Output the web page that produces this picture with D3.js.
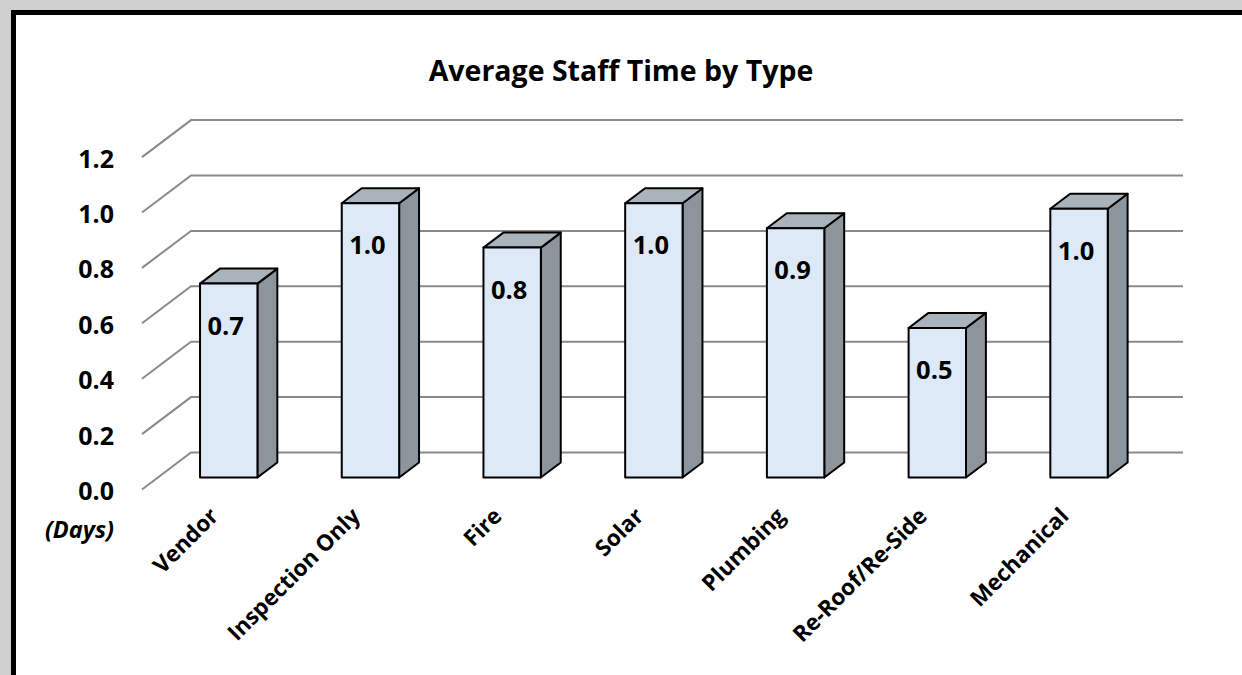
<!DOCTYPE html>
<html><head><meta charset="utf-8">
<script src="https://cdn.jsdelivr.net/npm/d3@7"></script>
<style>
html,body{margin:0;padding:0;background:#d0cfcf;overflow:hidden;}
svg{display:block;}
</style></head>
<body>
<svg id="chart" width="1242" height="675"></svg>
<script>
const categories = ["Vendor","Inspection Only","Fire","Solar","Plumbing","Re-Roof/Re-Side","Mechanical"];
const values = [0.70, 0.99, 0.83, 0.99, 0.90, 0.54, 0.97];
const tickValues = [0.0, 0.2, 0.4, 0.6, 0.8, 1.0, 1.2];
const title = "Average Staff Time by Type";
const unitLabel = "(Days)";

const FONT = "'Open Sans', sans-serif";
const svg = d3.select("#chart");

// frame
svg.append("rect").attr("x",0).attr("y",0).attr("width",1242).attr("height",675).attr("fill","#d0cfcf");
svg.append("rect").attr("x",13.5).attr("y",12.5).attr("width",1300).attr("height",700)
  .attr("fill","#fff").attr("stroke","#000").attr("stroke-width",5);

// 3D projection parameters
const DX = 49, DY = 37;
const zBack = 0.27, zFront = 0.676;

const x = d3.scaleBand().domain(categories).range([191, 1183]).paddingInner(0).paddingOuter(0);
const y = d3.scaleLinear().domain([0, 1.2]).range([452.5, 120.1]);
const barW = x.bandwidth() * 0.405;

// gridlines
const grid = svg.append("g").attr("stroke","#8a8a8a").attr("stroke-width",2).attr("fill","none");
tickValues.forEach(v => {
  const yb = y(v);
  grid.append("path").attr("d", `M${x.range()[0]-DX},${yb+DY}L${x.range()[0]},${yb}L${x.range()[1]},${yb}`);
});

// title
svg.append("text").attr("x",621).attr("y",81).attr("text-anchor","middle")
  .attr("font-family",FONT).attr("font-weight","bold").attr("font-size",28.5).attr("fill","#000")
  .text(title);

// y axis labels
const yAxis = d3.axisLeft(y).tickValues(tickValues).tickFormat(d3.format(".1f")).tickSize(0).tickPadding(0);
const ag = svg.append("g").attr("transform",`translate(114,${DY+2})`).call(yAxis);
ag.select(".domain").remove();
ag.selectAll("text").attr("font-family",FONT).attr("font-weight","bold").attr("font-size",25).attr("fill","#000");

svg.append("text").attr("x",114).attr("y",538).attr("text-anchor","end")
  .attr("font-family",FONT).attr("font-weight","bold").attr("font-style","italic").attr("font-size",23.5)
  .attr("fill","#000").text(unitLabel);

// bars
const bars = svg.append("g");
categories.forEach((c, i) => {
  const v = values[i];
  const cx = x(c) + x.bandwidth()/2;
  const fx = cx - zFront*DX, fy0 = y(0) + zFront*DY, fy1 = y(v) + zFront*DY;
  const bx = cx - zBack*DX, by1 = y(v) + zBack*DY;
  const ddx = bx - fx, ddy = by1 - fy1;
  const xl = fx - barW/2, xr = fx + barW/2;
  const g = bars.append("g").attr("stroke","#000").attr("stroke-width",2).attr("stroke-linejoin","round");
  g.append("path").attr("fill","#8d959c")
    .attr("d",`M${xr},${fy1}L${xr+ddx},${fy1+ddy}L${xr+ddx},${fy0+ddy}L${xr},${fy0}Z`);
  g.append("path").attr("fill","#a9b3bb")
    .attr("d",`M${xl},${fy1}L${xl+ddx},${fy1+ddy}L${xr+ddx},${fy1+ddy}L${xr},${fy1}Z`);
  g.append("rect").attr("fill","#dde9f7").attr("x",xl).attr("y",fy1).attr("width",barW).attr("height",fy0-fy1);
  svg.append("text").attr("x",fx-3).attr("y",fy1+51).attr("text-anchor","middle")
    .attr("font-family",FONT).attr("font-weight","bold").attr("font-size",25.5).attr("fill","#000")
    .text(d3.format(".1f")(v));
  svg.append("text").attr("text-anchor","end")
    .attr("transform",`translate(${fx-9},${y(0)+zFront*DY+40}) rotate(-45)`)
    .attr("font-family",FONT).attr("font-weight","bold").attr("font-size",22.5).attr("fill","#000")
    .text(c);
});
</script>
</body></html>
